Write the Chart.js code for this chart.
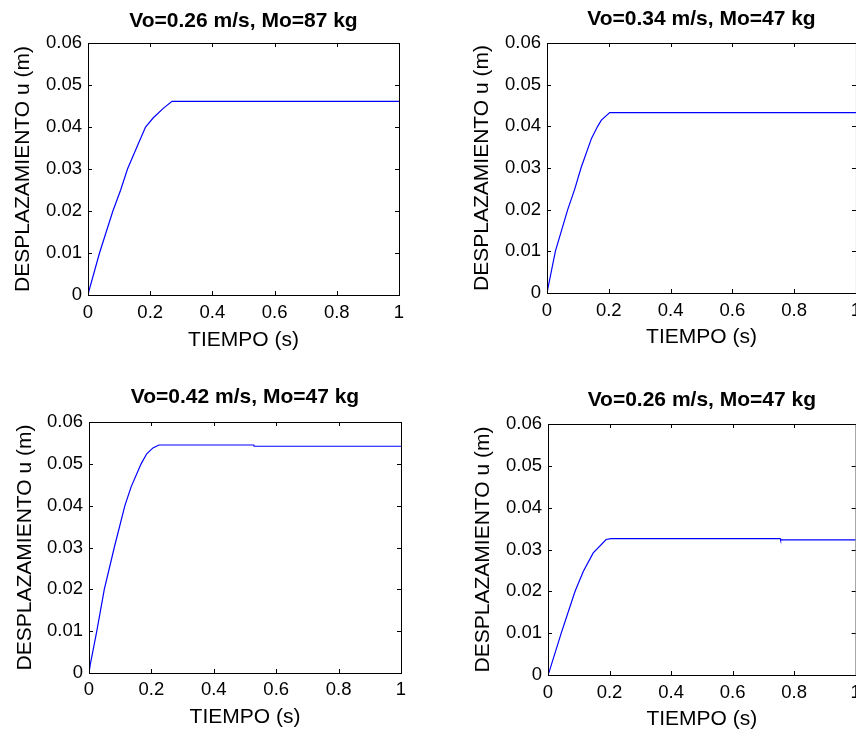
<!DOCTYPE html>
<html>
<head>
<meta charset="utf-8">
<script src="https://cdn.jsdelivr.net/npm/chart.js@4.4.1/dist/chart.umd.min.js"></script>
<style>
  html, body { margin: 0; padding: 0; background: #fff; }
  body { position: relative; width: 856px; height: 730px; overflow: hidden; }
  canvas { position: absolute; }
</style>
</head>
<body>
<canvas id="c1"></canvas>
<canvas id="c2"></canvas>
<canvas id="c3"></canvas>
<canvas id="c4"></canvas>
<script>
// --- DATA ---
const titles = ['Vo=0.26 m/s, Mo=87 kg', 'Vo=0.34 m/s, Mo=47 kg', 'Vo=0.42 m/s, Mo=47 kg', 'Vo=0.26 m/s, Mo=47 kg'];
const xLabel = 'TIEMPO (s)';
const yLabel = 'DESPLAZAMIENTO u (m)';

const xTicks = [0, 0.2, 0.4, 0.6, 0.8, 1];
const xTickLabels = ['0', '0.2', '0.4', '0.6', '0.8', '1'];
const yTicks = [0, 0.01, 0.02, 0.03, 0.04, 0.05, 0.06];
const yTickLabels = ['0', '0.01', '0.02', '0.03', '0.04', '0.05', '0.06'];

// time (s) and displacement (m)
const t1 = [0, 0.004, 0.037, 0.08, 0.105, 0.127, 0.16, 0.185, 0.21, 0.243, 0.27, 1];
const u1 = [0, 0.0012, 0.010, 0.020, 0.025, 0.030, 0.0357, 0.040, 0.0422, 0.0445, 0.0461, 0.0461];

const t2 = [0, 0.004, 0.027, 0.067, 0.09, 0.11, 0.144, 0.164, 0.176, 0.203, 1];
const u2 = [0, 0.0015, 0.010, 0.020, 0.025, 0.030, 0.0371, 0.040, 0.0415, 0.0433, 0.0433];

const t3 = [0, 0.004, 0.025, 0.049, 0.081, 0.115, 0.135, 0.167, 0.185, 0.205, 0.224, 0.528, 0.529, 1];
const u3 = [0, 0.002, 0.010, 0.020, 0.030, 0.040, 0.0445, 0.050, 0.0524, 0.0538, 0.0545, 0.0545, 0.0542, 0.0542];

const t4 = [0, 0.004, 0.043, 0.088, 0.115, 0.147, 0.189, 0.205, 0.755, 0.756, 1];
const u4 = [0, 0.0008, 0.010, 0.020, 0.0248, 0.0292, 0.0324, 0.0326, 0.0326, 0.0323, 0.0323];

const series = [[t1, u1], [t2, u2], [t3, u3], [t4, u4]];

// --- LAYOUT (page pixels) ---
const panels = [
    { id: 'c1', box: [0, 0, 428, 365],   area: [88, 43, 399, 295],   titleY: 21,    yLabelX: 23.3,  xTickY: 312.5, xLabelY: 340 },
    { id: 'c2', box: [428, 0, 440, 365], area: [547, 43, 858, 293],  titleY: 19,    yLabelX: 482.5, xTickY: 311,   xLabelY: 337.5 },
    { id: 'c3', box: [0, 365, 428, 380], area: [89, 422, 401, 673],  titleY: 397.5, yLabelX: 25,    xTickY: 690,   xLabelY: 717.5 },
    { id: 'c4', box: [428, 365, 440, 380], area: [548, 424, 859, 675], titleY: 400.5, yLabelX: 483.3, xTickY: 693.3, xLabelY: 719 }
];

const FONT = '"Liberation Sans", Arial, sans-serif';
const TICK_SIZE = 18.5;
const LABEL_SIZE = 21;
const TITLE_SIZE = 21;
const LH = 1.2;
const TICK_LEN = 4;

Chart.defaults.color = '#000';
Chart.defaults.font.family = FONT;

// MATLAB-like box with inward ticks on all four sides
const boxPlugin = {
    id: 'matlabBox',
    afterDraw(chart) {
        const { ctx, chartArea: a, scales } = chart;
        ctx.save();
        ctx.strokeStyle = '#000';
        ctx.lineWidth = 1;
        ctx.beginPath();
        xTicks.forEach(v => {
            const p = Math.round(scales.x.getPixelForValue(v)) + 0.5;
            ctx.moveTo(p, a.bottom); ctx.lineTo(p, a.bottom - TICK_LEN);
            ctx.moveTo(p, a.top); ctx.lineTo(p, a.top + TICK_LEN);
        });
        yTicks.forEach(v => {
            const p = Math.round(scales.y.getPixelForValue(v)) + 0.5;
            ctx.moveTo(a.left, p); ctx.lineTo(a.left + TICK_LEN, p);
            ctx.moveTo(a.right, p); ctx.lineTo(a.right - TICK_LEN, p);
        });
        ctx.stroke();
        ctx.strokeRect(a.left + 0.5, a.top + 0.5, a.right - a.left, a.bottom - a.top);
        ctx.restore();
    }
};

function makePanel(p, idx) {
    const [cx, cy, cw, ch] = p.box;
    const L = p.area[0] - cx, T = p.area[1] - cy, R = p.area[2] - cx, B = p.area[3] - cy;
    const canvas = document.getElementById(p.id);
    canvas.width = cw;
    canvas.height = ch;
    canvas.style.left = cx + 'px';
    canvas.style.top = cy + 'px';

    const [ts, us] = series[idx];
    const points = ts.map((t, i) => ({ x: t, y: us[i] }));

    new Chart(canvas, {
        type: 'line',
        data: {
            datasets: [{
                data: points,
                borderColor: '#0000ff',
                borderWidth: 1.2,
                pointRadius: 0,
                tension: 0,
                fill: false
            }]
        },
        options: {
            responsive: false,
            animation: false,
            devicePixelRatio: 1,
            layout: { padding: { left: 0, top: 0, right: cw - R, bottom: 0 } },
            plugins: { legend: { display: false }, tooltip: { enabled: false }, title: { display: false } },
            scales: {
                x: {
                    type: 'linear', position: 'bottom', min: 0, max: 1,
                    grid: { display: false, drawTicks: false },
                    border: { display: false },
                    afterBuildTicks: s => { s.ticks = xTicks.map(v => ({ value: v })); },
                    afterFit: s => { s.height = ch - B; },
                    ticks: {
                        autoSkip: false, maxRotation: 0,
                        padding: (p.xTickY - cy) - B - TICK_SIZE * LH / 2,
                        font: { size: TICK_SIZE, lineHeight: LH },
                        callback: (v, i) => xTickLabels[i]
                    },
                    title: {
                        display: true, text: xLabel,
                        font: { size: LABEL_SIZE, lineHeight: LH },
                        padding: { top: 0, bottom: ch - (p.xLabelY - cy) - LABEL_SIZE * LH / 2 }
                    }
                },
                x2: {
                    type: 'linear', position: 'top', min: 0, max: 1,
                    grid: { display: false, drawTicks: false },
                    border: { display: false },
                    ticks: { display: false },
                    afterFit: s => { s.height = T; },
                    title: {
                        display: true, text: titles[idx],
                        font: { size: TITLE_SIZE, weight: 'bold', lineHeight: LH },
                        padding: { top: (p.titleY - cy) - TITLE_SIZE * LH / 2, bottom: 0 }
                    }
                },
                y: {
                    type: 'linear', position: 'left', min: 0, max: 0.06,
                    grid: { display: false, drawTicks: false },
                    border: { display: false },
                    afterBuildTicks: s => { s.ticks = yTicks.map(v => ({ value: v })); },
                    afterFit: s => { s.width = L; },
                    ticks: {
                        autoSkip: false, padding: 6,
                        font: { size: TICK_SIZE, lineHeight: LH },
                        callback: (v, i) => yTickLabels[i]
                    },
                    title: {
                        display: true, text: yLabel,
                        font: { size: LABEL_SIZE, lineHeight: LH },
                        padding: { top: (p.yLabelX - cx) - LABEL_SIZE * LH / 2, bottom: 0 }
                    }
                }
            }
        },
        plugins: [boxPlugin]
    });
}

panels.forEach(makePanel);
</script>
</body>
</html>
